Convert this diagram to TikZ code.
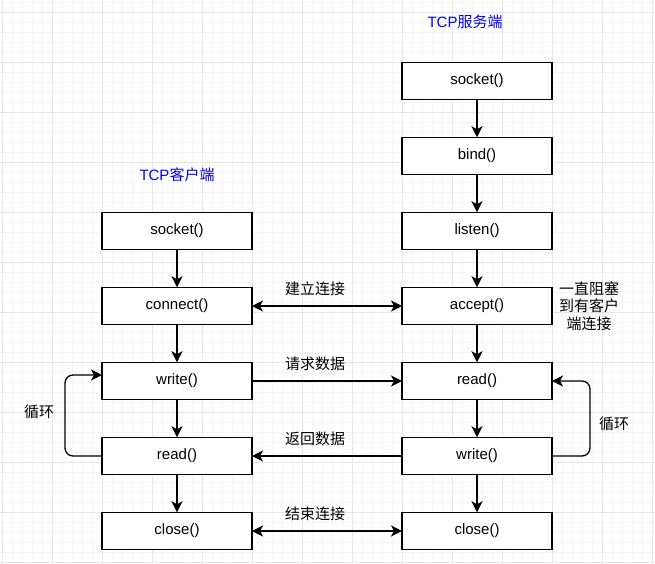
\documentclass[tikz,border=0pt]{standalone}
\usepackage{fontspec}
\setmainfont{Liberation Sans}
\newfontfamily\zhfont{Noto Sans CJK SC}
\usetikzlibrary{arrows.meta, positioning}

\definecolor{gridminor}{HTML}{F6F6F6}
\definecolor{gridmajor}{HTML}{E6E6E6}
\definecolor{titleblue}{HTML}{0000FF}

\begin{document}
\begin{tikzpicture}[x=1pt, y=-1pt,
  func/.style={rectangle, draw=black, line width=1.3pt, fill=white,
    minimum width=150pt, minimum height=37.5pt, inner sep=0pt, outer sep=0pt,
    font=\fontsize{15}{18}\selectfont},
  %
  title/.style={text=titleblue, font=\fontsize{15}{18}\selectfont},
  %
  note/.style={font=\fontsize{15}{17.5}\selectfont\zhfont, align=center},
  %
  flow/.style={line width=1.3pt, -{Stealth[length=11pt, width=11pt, inset=3pt]}},
  %
  both/.style={line width=1.3pt, {Stealth[length=11pt, width=11pt, inset=3pt]}-{Stealth[length=11pt, width=11pt, inset=3pt]}},
  node distance=37.5pt
  ]

  \useasboundingbox (0,0) rectangle (655,563);

  % background grid
  \begin{scope}
    \fill[white] (0,0) rectangle (655,563);
    \foreach \gx in {2,12,...,652} {
      \draw[gridminor, line width=0.8pt] (\gx,0) -- (\gx,563);
    }
    \foreach \gy in {2,12,...,562} {
      \draw[gridminor, line width=0.8pt] (0,\gy) -- (655,\gy);
    }
    \foreach \gx in {2,52,...,652} {
      \draw[gridmajor, line width=1pt] (\gx,0) -- (\gx,563);
    }
    \foreach \gy in {12,62,...,562} {
      \draw[gridmajor, line width=1pt] (0,\gy) -- (655,\gy);
    }
  \end{scope}

  % server side
  \node[title] (server) at (465,22) {TCP{\zhfont 服务端}};
  \node[func] (ssocket) at (477,81) {socket()};
  \node[func, below=of ssocket] (sbind) {bind()};
  \node[func, below=of sbind] (slisten) {listen()};
  \node[func, below=of slisten] (saccept) {accept()};
  \node[func, below=of saccept] (sread) {read()};
  \node[func, below=of sread] (swrite) {write()};
  \node[func, below=of swrite] (sclose) {close()};

  % client side
  \node[title] (client) at (177,175) {TCP{\zhfont 客户端}};
  \node[func] (csocket) at (177,231) {socket()};
  \node[func, below=of csocket] (cconnect) {connect()};
  \node[func, below=of cconnect] (cwrite) {write()};
  \node[func, below=of cwrite] (cread) {read()};
  \node[func, below=of cread] (cclose) {close()};

  \node[note] (block) at (589,306) {一直阻塞\\到有客户\\端连接};
  \node[note] (cloop) at (39,412) {循环};
  \node[note] (sloop) at (614,424) {循环};

  \begin{scope}
    \draw[flow] (ssocket) -- (sbind);
    \draw[flow] (sbind) -- (slisten);
    \draw[flow] (slisten) -- (saccept);
    \draw[flow] (saccept) -- (sread);
    \draw[flow] (sread) -- (swrite);
    \draw[flow] (swrite) -- (sclose);
    %
    \draw[flow] (csocket) -- (cconnect);
    \draw[flow] (cconnect) -- (cwrite);
    \draw[flow] (cwrite) -- (cread);
    \draw[flow] (cread) -- (cclose);
  \end{scope}

  \begin{scope}
    \draw[both] (cconnect) -- (saccept)
      node[note, above, pos=.42, yshift=6pt] {建立连接};
    \draw[flow] (cwrite) -- (sread)
      node[note, above, pos=.42, yshift=6pt] {请求数据};
    \draw[flow] (swrite) -- (cread)
      node[note, above, pos=.58, yshift=6pt] {返回数据};
    \draw[both] (cclose) -- (sclose)
      node[note, above, pos=.42, yshift=6pt] {结束连接};
    %
    \draw[flow, rounded corners=8pt] (cread.west) -- ++(-37,0)
      |- ([yshift=6pt]cwrite.west);
    \draw[flow, rounded corners=8pt] (swrite.east) -- ++(38,0)
      |- (sread.east);
  \end{scope}

\end{tikzpicture}
\end{document}
